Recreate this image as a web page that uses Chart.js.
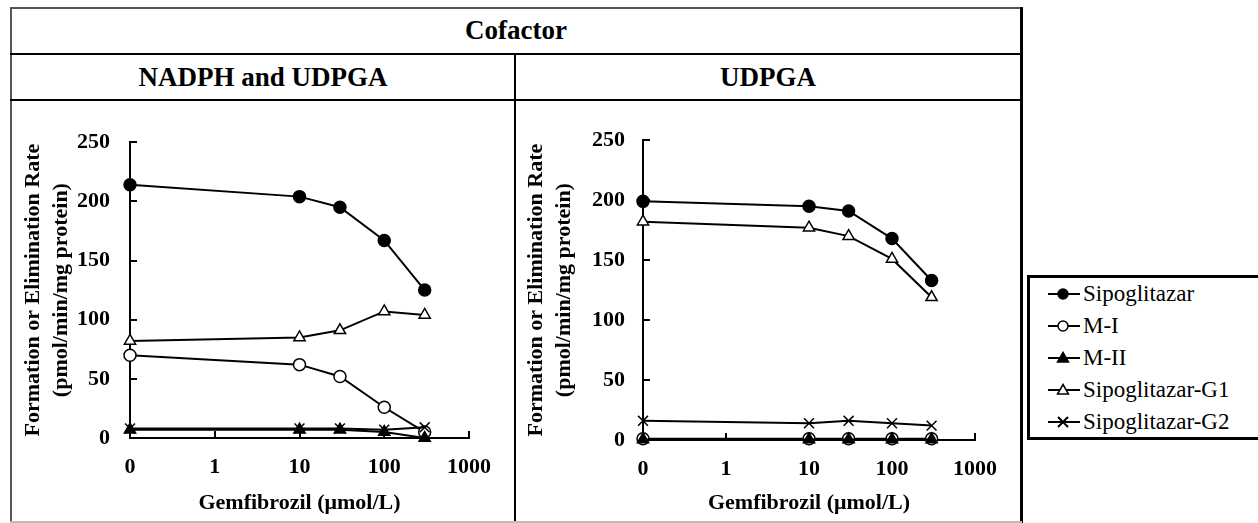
<!DOCTYPE html>
<html>
<head>
<meta charset="utf-8">
<title>Gemfibrozil inhibition</title>
<script src="https://cdn.jsdelivr.net/npm/chart.js@4.4.1/dist/chart.umd.min.js"></script>
<style>
  body { margin: 0; background: #fff; }
  #page { position: relative; width: 1258px; height: 523px; overflow: hidden; font-family: "Liberation Serif", serif; color: #000; }
  .line { position: absolute; background: #000; }
  .head { position: absolute; font-weight: bold; font-size: 27px; text-align: center; line-height: 30px; }
  .panel { position: absolute; top: 102px; height: 419px; }
  #legend { position: absolute; left: 1027px; top: 275px; width: 240px; height: 159px; border: 3px solid #000; box-sizing: content-box; }
  .item { position: absolute; left: 0; height: 30px; font-size: 23px; line-height: 30px; }
  .item svg { position: absolute; left: 18px; top: 0; }
  .item span { position: absolute; left: 53px; white-space: nowrap; }
</style>
</head>
<body>
<div id="page">
  <!-- table frame -->
  <div class="line" style="left:10px;top:7px;width:1012px;height:2px;background:#555"></div>
  <div class="line" style="left:10px;top:7px;width:2px;height:516px;background:#555"></div>
  <div class="line" style="left:1020px;top:7px;width:3px;height:516px"></div>
  <div class="line" style="left:10px;top:53px;width:1012px;height:2px"></div>
  <div class="line" style="left:10px;top:99px;width:1012px;height:2px"></div>
  <div class="line" style="left:514px;top:53px;width:2px;height:470px"></div>
  <div class="line" style="left:10px;top:521px;width:1012px;height:2px;background:#bbb"></div>

  <div class="head" style="left:12px;width:1008px;top:15px">Cofactor</div>
  <div class="head" style="left:12px;width:502px;top:62px">NADPH and UDPGA</div>
  <div class="head" style="left:516px;width:504px;top:62px">UDPGA</div>

  <div class="panel" style="left:12px;width:502px"><canvas id="chartBoth" width="502" height="419"></canvas></div>
  <div class="panel" style="left:517px;width:503px"><canvas id="chartUdpga" width="503" height="419"></canvas></div>

  <div id="legend"></div>
</div>

<script>
// gemfibrozil concentrations (umol/L); 0 sits on the axis origin
const conc = [0, 10, 30, 100, 300];
const xTicks = [0.1, 1, 10, 100, 1000];
const xTickLabels = ['0', '1', '10', '100', '1000'];
const yTicks = [0, 50, 100, 150, 200, 250];

const seriesNames = ['Sipoglitazar', 'M-I', 'M-II', 'Sipoglitazar-G1', 'Sipoglitazar-G2'];

// NADPH and UDPGA
const bothSipoglitazar = [214, 204, 195, 167, 125];
const bothM1 = [70, 62, 52, 26, 5];
const bothM2 = [7, 7, 7, 5, 0];
const bothG1 = [82, 85, 91, 107, 104];
const bothG2 = [8, 8, 8, 7, 9];

// UDPGA only
const udpgaSipoglitazar = [199, 195, 191, 168, 133];
const udpgaM1 = [1, 1, 1, 1, 1];
const udpgaM2 = [0.5, 0.5, 0.5, 0.5, 0.5];
const udpgaG1 = [182, 177, 170, 151, 119];
const udpgaG2 = [16, 14, 16, 14, 12];

const serif = '"Liberation Serif", serif';
Chart.defaults.font.family = serif;
Chart.defaults.color = '#000';

// marker look per series, same order as seriesNames
const markers = [
    { pointStyle: 'circle', fill: '#000', radius: 6 },
    { pointStyle: 'circle', fill: '#fff', radius: 6 },
    { pointStyle: 'triangle', fill: '#000', radius: 6.5 },
    { pointStyle: 'triangle', fill: '#fff', radius: 6.5 },
    { pointStyle: 'crossRot', fill: '#000', radius: 7 },
];

function buildDatasets(values) {
    const xs = conc.map(c => (c === 0 ? 0.1 : c));
    return values.map((vals, i) => ({
        label: seriesNames[i],
        data: vals.map((v, j) => ({ x: xs[j], y: v })),
        borderColor: '#000',
        borderWidth: 2,
        pointStyle: markers[i].pointStyle,
        pointRadius: markers[i].radius,
        pointBackgroundColor: markers[i].fill,
        pointBorderColor: '#000',
        pointBorderWidth: 1.5,
        clip: false,
        tension: 0,
        order: -i, // later series paint over earlier ones
    }));
}

function makeChart(id, values, dims) {
    const ctx = document.getElementById(id).getContext('2d');
    return new Chart(ctx, {
        type: 'line',
        data: { datasets: buildDatasets(values) },
        options: {
            responsive: false,
            animation: false,
            events: [],
            layout: { padding: { top: dims.top, right: dims.right, left: 0, bottom: 0 } },
            plugins: { legend: { display: false }, tooltip: { enabled: false } },
            scales: {
                x: {
                    type: 'logarithmic',
                    min: 0.1,
                    max: 1000,
                    afterBuildTicks: scale => {
                        scale.ticks = xTicks.map(v => ({ value: v }));
                    },
                    afterFit: scale => {
                        scale.height = dims.xHeight;
                    },
                    ticks: {
                        autoSkip: false,
                        maxRotation: 0,
                        padding: 23,
                        font: { size: 22, weight: 'bold' },
                        callback: value => xTickLabels[xTicks.indexOf(value)],
                    },
                    grid: { drawOnChartArea: false, tickLength: -7, color: '#000', lineWidth: 2 },
                    border: { color: '#000', width: 2 },
                    title: {
                        display: true,
                        text: 'Gemfibrozil (μmol/L)',
                        font: { size: 22, weight: 'bold' },
                        padding: { top: 0, bottom: 4 },
                    },
                },
                y: {
                    min: 0,
                    max: 250,
                    afterBuildTicks: scale => {
                        scale.ticks = yTicks.map(v => ({ value: v }));
                    },
                    afterFit: scale => {
                        scale.width = dims.yWidth;
                    },
                    ticks: {
                        padding: dims.yPad,
                        font: { size: 22, weight: 'bold' },
                    },
                    grid: { drawOnChartArea: false, tickLength: -7, color: '#000', lineWidth: 2 },
                    border: { color: '#000', width: 2 },
                    title: {
                        display: true,
                        text: ['Formation or Elimination Rate', '(pmol/min/mg protein)'],
                        font: { size: 22, weight: 'bold', lineHeight: 1.28 },
                        padding: { top: dims.titlePad, bottom: 0 },
                    },
                },
            },
        },
    });
}

function drawAll() {
    makeChart('chartBoth',
        [bothSipoglitazar, bothM1, bothM2, bothG1, bothG2],
        { top: 26, right: 34, xHeight: 83, yWidth: 118, yPad: 27, titlePad: 7 });

    makeChart('chartUdpga',
        [udpgaSipoglitazar, udpgaM1, udpgaM2, udpgaG1, udpgaG2],
        { top: 23, right: 35, xHeight: 81, yWidth: 126, yPad: 25, titlePad: 5 });

    // legend: line with marker, then the series name
    const legend = document.getElementById('legend');
    seriesNames.forEach((name, i) => {
        const m = markers[i];
        let shape;
        if (m.pointStyle === 'circle') {
            shape = `<circle cx="15" cy="15" r="5" fill="${m.fill}" stroke="#000" stroke-width="1.5"/>`;
        } else if (m.pointStyle === 'triangle') {
            shape = `<polygon points="15,9.5 20.5,19 9.5,19" fill="${m.fill}" stroke="#000" stroke-width="1.5"/>`;
        } else {
            shape = '<path d="M10,10 L20,20 M20,10 L10,20" stroke="#000" stroke-width="2"/>';
        }
        const item = document.createElement('div');
        item.className = 'item';
        item.style.top = (1 + i * 32) + 'px';
        item.innerHTML = `<svg width="32" height="30"><line x1="0" y1="15" x2="32" y2="15" stroke="#000" stroke-width="2"/>${shape}</svg><span>${name}</span>`;
        legend.appendChild(item);
    });
}

Promise.all([
    document.fonts.load('bold 22px "Liberation Serif"'),
    document.fonts.load('22px "Liberation Serif"'),
]).then(drawAll, drawAll);
</script>
</body>
</html>
